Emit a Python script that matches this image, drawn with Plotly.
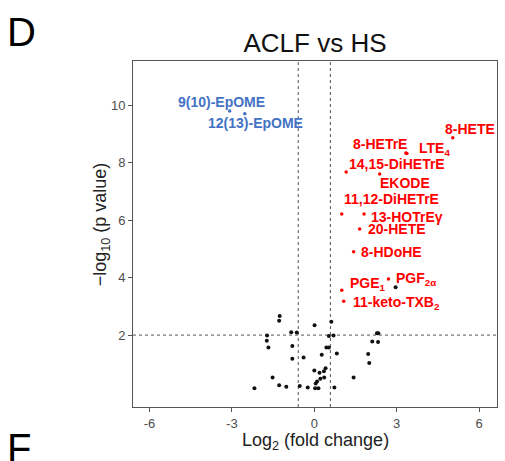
import plotly.graph_objects as go

# ---------------- data ----------------
up_names = ["8-HETE", "LTE<sub>4</sub>", "8-HETrE", "14,15-DiHETrE", "EKODE",
            "11,12-DiHETrE", "13-HOTrEγ", "20-HETE", "8-HDoHE",
            "PGE<sub>1</sub>", "PGF<sub>2α</sub>", "11-keto-TXB<sub>2</sub>"]
up_log2fc = [5.04, 3.37, 3.33, 1.16, 2.38, 1.00, 1.81, 1.65, 1.43, 1.00, 2.70, 1.07]
up_logp = [8.86, 8.31, 8.33, 7.67, 7.60, 6.21, 6.21, 5.69, 4.90, 3.56, 3.95, 3.18]

down_names = ["9(10)-EpOME", "12(13)-EpOME"]
down_log2fc = [-3.08, -2.53]
down_logp = [9.79, 9.70]

ns_log2fc = [-1.26, -1.28, 0.01, 0.62, -1.72, -0.84, -0.64, -1.73, -1.67, -0.80,
             0.53, 0.70, 2.28, 2.33, 2.11, 2.32, 0.44, 0.53, 0.82, 0.27,
             1.96, 2.00, -0.80, -0.39, 0.41, 0.35, 0.19, 0.00, -1.52, 0.36,
             0.22, 0.10, 0.05, 1.43, -2.18, -1.28, -1.02, -0.53, -0.24, 0.03,
             0.15, 0.73, 2.96]
ns_logp = [2.66, 2.50, 2.34, 2.46, 1.99, 2.10, 2.09, 1.80, 1.57, 1.62,
           1.97, 1.99, 2.06, 2.06, 1.78, 1.76, 1.57, 1.57, 1.36, 1.32,
           1.34, 1.03, 1.18, 1.22, 0.85, 0.74, 0.69, 0.77, 0.53, 0.53,
           0.48, 0.39, 0.32, 0.53, 0.15, 0.26, 0.20, 0.23, 0.18, 0.15,
           0.15, 0.18, 3.66]

fc_cutoff = 0.585   # log2(1.5)
p_cutoff = 2        # -log10(0.01)

x_ticks = [-6, -3, 0, 3, 6]
y_ticks = [2, 4, 6, 8, 10]

# label placement (pixel offsets from the point: left edge, vertical centre)
up_offsets = [(-10, 9), (10, 5), (-55, 9), (1, 8), (-2, -9),
              (0, 15), (5, -3), (6, 0), (5, 0),
              (6, 6), (6, 0), (7, -2)]
down_offsets = [(-54, 9), (-39, -9)]

RED = "#FF0000"
BLUE = "#4472C4"
FONT = "Liberation Sans, Arial, sans-serif"

fig = go.Figure()
fig.add_trace(go.Scatter(x=ns_log2fc, y=ns_logp, mode="markers",
                         marker=dict(color="#111111", size=4), hoverinfo="skip"))
fig.add_trace(go.Scatter(x=up_log2fc, y=up_logp, mode="markers",
                         marker=dict(color=RED, size=3.5), hoverinfo="skip"))
fig.add_trace(go.Scatter(x=down_log2fc, y=down_logp, mode="markers",
                         marker=dict(color=BLUE, size=3.5), hoverinfo="skip"))

for name, xv, yv, (dx, dy) in zip(up_names, up_log2fc, up_logp, up_offsets):
    fig.add_annotation(x=xv, y=yv, text="<b>%s</b>" % name, showarrow=False,
                       xanchor="left", yanchor="middle", xshift=dx, yshift=dy,
                       font=dict(family=FONT, size=14, color=RED))
for name, xv, yv, (dx, dy) in zip(down_names, down_log2fc, down_logp, down_offsets):
    fig.add_annotation(x=xv, y=yv, text="<b>%s</b>" % name, showarrow=False,
                       xanchor="left", yanchor="middle", xshift=dx, yshift=dy,
                       font=dict(family=FONT, size=14, color=BLUE))

line_style = dict(color="#555555", width=1, dash="dot")
for v in (-fc_cutoff, fc_cutoff):
    fig.add_shape(type="line", xref="x", yref="paper", x0=v, x1=v, y0=0, y1=1,
                  line=line_style, layer="below")
fig.add_shape(type="line", xref="paper", yref="y", x0=0, x1=1, y0=p_cutoff, y1=p_cutoff,
              line=line_style, layer="below")

# axis titles and panel letters
fig.add_annotation(xref="paper", yref="paper", x=0.5, y=-0.101, showarrow=False,
                   text="Log<sub>2</sub> (fold change)", xanchor="center", yanchor="middle",
                   font=dict(family=FONT, size=18, color="#222222"))
fig.add_annotation(xref="paper", yref="paper", x=-0.086, y=0.527, showarrow=False,
                   text="−log<sub>10</sub> (p value)", textangle=-90,
                   xanchor="center", yanchor="middle",
                   font=dict(family=FONT, size=18, color="#222222"))
fig.add_annotation(xref="paper", yref="paper", x=-0.352, y=1.084, showarrow=False,
                   text="D", xanchor="left", yanchor="middle",
                   font=dict(family=FONT, size=40, color="#000000"))
fig.add_annotation(xref="paper", yref="paper", x=-0.352, y=-0.118, showarrow=False,
                   text="F", xanchor="left", yanchor="middle",
                   font=dict(family=FONT, size=40, color="#000000"))

axis_common = dict(showgrid=False, zeroline=False, showline=True, mirror=True,
                   linecolor="#555555", linewidth=1, ticks="outside", ticklen=4,
                   tickcolor="#555555", tickfont=dict(family=FONT, size=13, color="#4d4d4d"))

fig.update_layout(
    width=505, height=461,
    margin=dict(l=133, r=8, t=61, b=54),
    paper_bgcolor="white", plot_bgcolor="white",
    showlegend=False,
    title=dict(text="ACLF vs HS", x=(133 + 497) / 2 / 505, xanchor="center",
               y=1 - 43 / 461, yanchor="middle",
               font=dict(family=FONT, size=26, color="#111111")),
    xaxis=dict(range=[-6.6, 6.65], tickvals=x_ticks, ticktext=[str(t) for t in x_ticks],
               **axis_common),
    yaxis=dict(range=[-0.5, 11.53], tickvals=y_ticks, ticktext=[str(t) for t in y_ticks],
               **axis_common),
)

fig.write_html("out.html")
